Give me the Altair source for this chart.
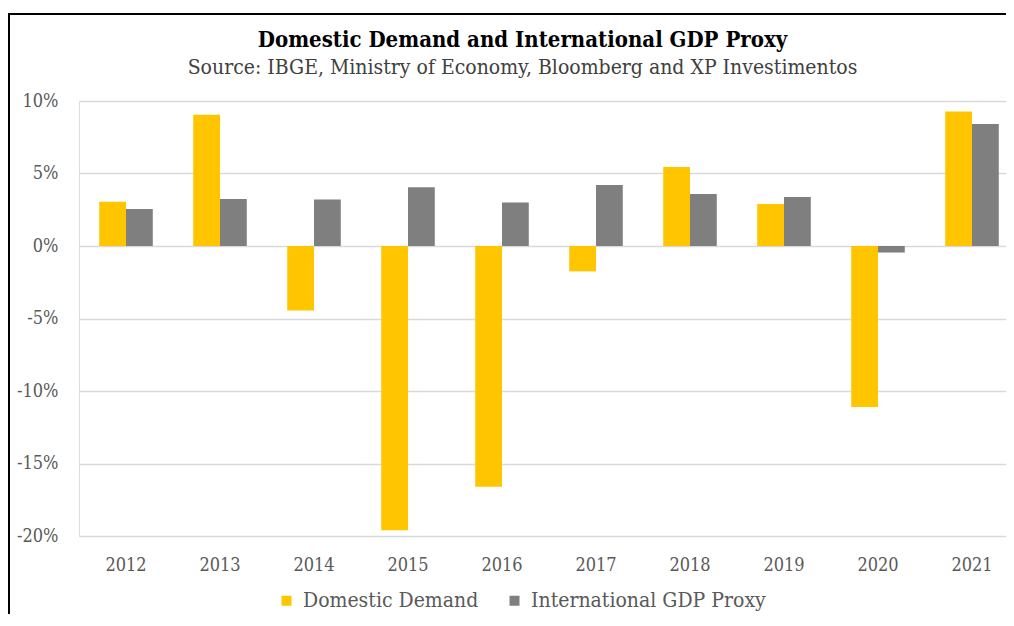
import altair as alt
import pandas as pd

years = ["2012", "2013", "2014", "2015", "2016", "2017", "2018", "2019", "2020", "2021"]
domestic = [3.05, 9.05, -4.45, -19.6, -16.6, -1.75, 5.45, 2.9, -11.1, 9.28]
intl = [2.55, 3.25, 3.2, 4.05, 3.0, 4.2, 3.58, 3.38, -0.45, 8.42]
series = ["Domestic Demand", "International GDP Proxy"]
colors = ["#FFC600", "#7F7F7F"]
y_ticks = [-20, -15, -10, -5, 0, 5, 10]

FONT = "DejaVu Serif Condensed, DejaVu Serif"

rows = []
for i, yr in enumerate(years):
    rows.append({"year": yr, "series": series[0], "value": domestic[i]})
    rows.append({"year": yr, "series": series[1], "value": intl[i]})
df = pd.DataFrame(rows)

bars = alt.Chart(df).mark_bar().encode(
    x=alt.X("year:N", sort=years,
            scale=alt.Scale(paddingInner=0.43, paddingOuter=0.215, range=[0, 940]),
            axis=alt.Axis(title=None, labelAngle=0, domain=False, ticks=False,
                          labelFontSize=18, labelColor="#595959", labelPadding=20,
                          labelFont=FONT, grid=False)),
    xOffset=alt.XOffset("series:N", sort=series,
                        scale=alt.Scale(paddingInner=0, paddingOuter=0)),
    y=alt.Y("value:Q", scale=alt.Scale(domain=[-20, 10], nice=False, zero=False),
            axis=alt.Axis(title=None, values=y_ticks, labelExpr="datum.value + '%'",
                          domain=False, ticks=False, gridColor="#d9d9d9", gridWidth=1.5,
                          labelFontSize=18, labelColor="#595959", labelPadding=21,
                          labelFont=FONT)),
    color=alt.Color("series:N", sort=series,
                    scale=alt.Scale(domain=series, range=colors),
                    legend=alt.Legend(title=None, orient="none", legendX=197, legendY=489,
                                      direction="horizontal", symbolType="square",
                                      symbolSize=100, symbolStrokeWidth=0,
                                      labelFontSize=21, labelColor="#595959",
                                      labelFont=FONT, columnPadding=25, labelOffset=6,
                                      labelLimit=400)),
)

frame = alt.Chart(pd.DataFrame({"a": [0]})).mark_rect(
    fill=None, stroke="black", strokeWidth=2
).encode(x=alt.value(-70), x2=alt.value(1000), y=alt.value(-87), y2=alt.value(560))

chart = alt.layer(bars, frame).properties(
    width=927, height=435,
    title=alt.TitleParams(
        text="Domestic Demand and International GDP Proxy",
        subtitle="Source: IBGE, Ministry of Economy, Bloomberg and XP Investimentos",
        font=FONT, fontSize=22, fontWeight="bold", color="black",
        subtitleFont=FONT, subtitleFontSize=21, subtitleColor="#404040",
        anchor="middle", dx=-20, offset=-66, subtitlePadding=5,
    ),
    autosize=alt.AutoSizeParams(type="none"),
    padding={"left": 71, "top": 93, "right": 0, "bottom": 78},
).configure_view(stroke=None).configure(background="white")

chart.save("out.html", embed_options={"renderer": "svg", "actions": False})
